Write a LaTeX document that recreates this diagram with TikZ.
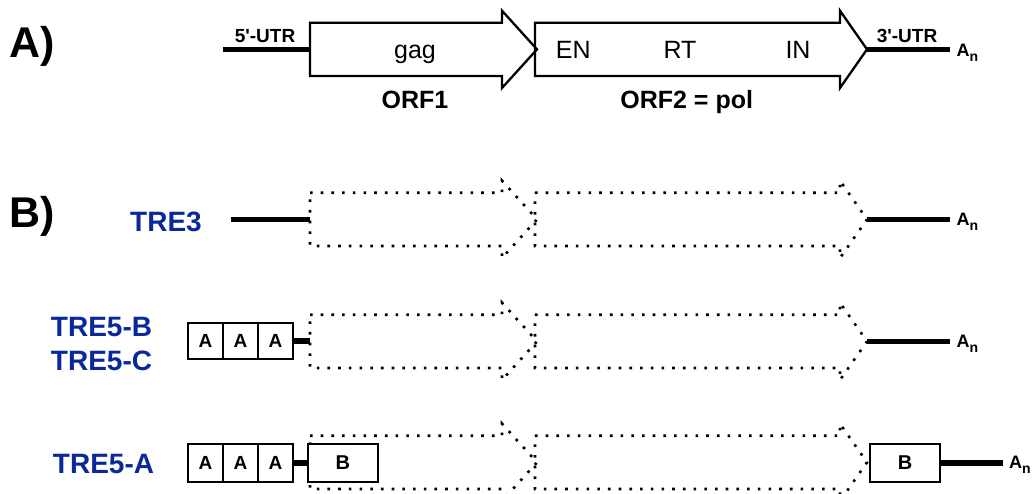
\documentclass[tikz,border=0pt]{standalone}
\usepackage{fontspec}
\setmainfont{Liberation Sans}[Ligatures=TeXOff]
\definecolor{treblue}{RGB}{10,40,155}
\newcommand{\fs}[1]{\fontsize{#1}{#1}\selectfont}
\newcommand{\An}{A\raisebox{-5pt}{\fs{14}n}}
\tikzset{
  orfone/.pic={\path[pic actions] (310,22.7) -- (502,22.7) -- (502,10.7) -- (537,49.35) -- (502,88) -- (502,76) -- (310,76) -- cycle;},
  orftwo/.pic={\path[pic actions] (535,22.7) -- (840,22.7) -- (840,10.7) -- (867,49.35) -- (840,88) -- (840,76) -- (535,76) -- cycle;},
  solidorf/.style={draw, line width=2.3pt, line join=miter},
  dotorf/.style={draw, line width=2.6pt, dash pattern=on 2.6pt off 8.1pt, line join=miter},
  utr/.style={line width=5.3pt},
  txt/.style={inner sep=0pt, anchor=base},
  dom/.style={txt, font=\fs{25}},
  orflbl/.style={txt, font=\fs{25}\bfseries},
  utrlbl/.style={txt, font=\fs{19}\bfseries},
  anlbl/.style={inner sep=0pt, anchor=base west, font=\fs{18}\bfseries},
  panel/.style={inner sep=0pt, anchor=base west, font=\fs{43}\bfseries},
  trelbl/.style={txt, text=treblue, font=\fs{28}\bfseries},
  boxa/.style={draw, line width=2.3pt, fill=white, minimum width=35pt, inner sep=0pt, font=\fs{19}\bfseries},
  boxb/.style={draw, line width=2.3pt, fill=white, minimum width=70pt, inner sep=0pt, font=\fs{20}\bfseries},
}
\begin{document}
\begin{tikzpicture}[x=1pt,y=-1pt]
\useasboundingbox (0,0) rectangle (1034,493);

% ---------- Panel A ----------
\node[panel] (pA) at (9,57) {A)};
\pic[solidorf] at (0,0) {orfone};
\pic[solidorf] at (0,0) {orftwo};
\coordinate (u5L) at (223,49.35);
\coordinate (o1L) at (310,49.35);
\coordinate (o2T) at (867,49.35);
\coordinate (u3R) at (950,49.35);
\draw[utr] (u5L) -- (o1L);
\draw[utr] (o2T) -- (u3R);
\node[utrlbl] (l5) at (265,42) {5'-UTR};
\node[utrlbl] (l3) at (907,42) {3'-UTR};
\node[dom] (gag) at (415,58.3) {gag};
\node[dom] (en) at (573.3,58.3) {EN};
\node[dom] (rt) at (680,58.3) {RT};
\node[dom] (in) at (798,58.3) {IN};
\node[orflbl] (orf1) at (415,108) {ORF1};
\node[orflbl] (orf2) at (686.7,108) {ORF2 = pol};
\node[anlbl] (anA) at (956.5,56) {\An};

% ---------- Panel B ----------
\node[panel] (pB) at (9,227.5) {B)};

% TRE3
\node[trelbl] (tre3) at (166,231.5) {TRE3};
\pic[dotorf] at (0,170) {orfone};
\pic[dotorf] at (0,170) {orftwo};
\coordinate (t3L) at (231,219.35);
\coordinate (d1L1) at (310,219.35);
\coordinate (d2T1) at (867,219.35);
\coordinate (r1R) at (950,219.35);
\draw[utr] (t3L) -- (d1L1);
\draw[utr] (d2T1) -- (r1R);
\node[anlbl] (an1) at (956.5,225) {\An};

% TRE5-B / TRE5-C
\node[trelbl] (tre5b) at (101.5,336.7) {TRE5-B};
\node[trelbl] (tre5c) at (101.5,370) {TRE5-C};
\pic[dotorf] at (0,292) {orfone};
\pic[dotorf] at (0,292) {orftwo};
\node[boxa, minimum height=36.6pt] (a21) at (205.5,341) {A};
\node[boxa, minimum height=36.6pt] (a22) at (240.5,341) {A};
\node[boxa, minimum height=36.6pt] (a23) at (275.5,341) {A};
\coordinate (d1L2) at (310,341);
\coordinate (d2T2) at (867,341.35);
\coordinate (r2R) at (950,341.35);
\draw[utr] (a23.east) -- (d1L2);
\draw[utr] (d2T2) -- (r2R);
\node[anlbl] (an2) at (956.5,347) {\An};

% TRE5-A
\node[trelbl] (tre5a) at (103.5,473) {TRE5-A};
\pic[dotorf] at (0,413) {orfone};
\pic[dotorf] at (0,413) {orftwo};
\node[boxa, minimum height=37.7pt] (a31) at (205.5,462.85) {A};
\node[boxa, minimum height=37.7pt] (a32) at (240.5,462.85) {A};
\node[boxa, minimum height=37.7pt] (a33) at (275.5,462.85) {A};
\node[boxb, minimum height=37.7pt] (bL) at (342.85,462.85) {B};
\node[boxb, minimum height=37.7pt] (bR) at (905,462.85) {B};
\coordinate (r3R) at (1003,462.85);
\draw[utr] (a33.east) -- (bL.west);
\draw[utr] (bR.east) -- (r3R);
\node[anlbl] (an3) at (1009,468) {\An};
\end{tikzpicture}
\end{document}
